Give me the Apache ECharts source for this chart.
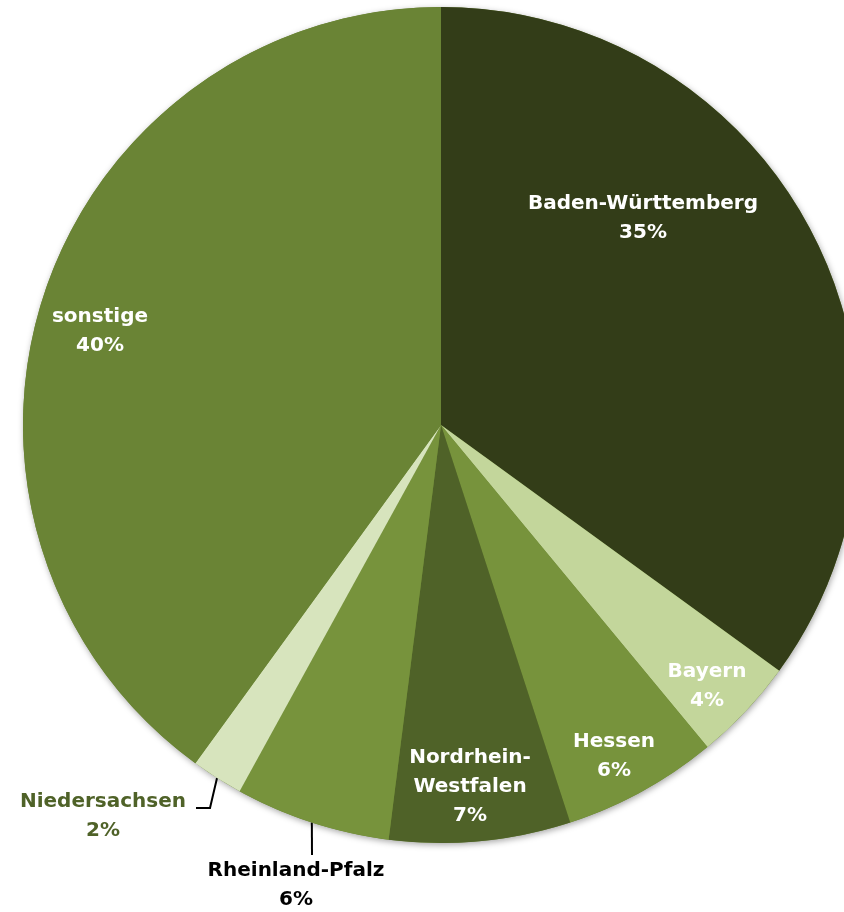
<!DOCTYPE html>
<html>
<head>
<meta charset="utf-8">
<script src="https://cdn.jsdelivr.net/npm/echarts@6/dist/echarts.min.js"></script>
<style>
html,body{margin:0;padding:0;background:#fff;}
#main{width:844px;height:912px;}
</style>
</head>
<body>
<div id="main"></div>
<script>
// ---- data ----
const categories = ['Baden-Württemberg', 'Bayern', 'Hessen', 'Nordrhein-Westfalen', 'Rheinland-Pfalz', 'Niedersachsen', 'sonstige'];
const displayNames = ['Baden-Württemberg', 'Bayern', 'Hessen', 'Nordrhein-\nWestfalen', 'Rheinland-Pfalz', 'Niedersachsen', 'sonstige'];
const shares = [35, 4, 6, 7, 6, 2, 40];

// ---- styles ----
const colors = ['#333d18', '#c3d69b', '#77933c', '#4f6228', '#77933c', '#d7e4bd', '#6a8435'];
const labelColors = ['#fff', '#fff', '#fff', '#fff', '#000', '#4f6228', '#fff'];
const outsideLabel = [false, false, false, false, true, true, false];
// label centres (px) and leader-line bends
const labelPos = [[643, 218], [707, 686], [614, 756], [470, 787], [296, 885], [103, 816], [100, 331]];
const linePath = {4: [[312, 855]], 5: [[210, 808], [196, 808]]};

const CX = 441, CY = 425, R = 418;

const chart = echarts.init(document.getElementById('main'), null, {renderer: 'canvas'});

const total = shares.reduce((a, b) => a + b, 0);
function edgePoint(i) {
  let cum = 0;
  for (let k = 0; k < i; k++) cum += shares[k];
  const a = (cum + shares[i] / 2) / total * 2 * Math.PI;
  return [CX + R * Math.sin(a), CY - R * Math.cos(a)];
}

const data = categories.map((c, i) => ({
  name: c,
  value: shares[i],
  itemStyle: {color: colors[i]},
  label: {
    position: outsideLabel[i] ? 'outside' : 'inside',
    color: labelColors[i]
  },
  labelLine: {show: outsideLabel[i], lineStyle: {color: '#000', width: 2, opacity: 1}, length: 10, length2: 10}
}));

chart.setOption({
  animation: false,
  series: [
    {
      type: 'pie',
      silent: true,
      center: [CX, CY],
      radius: R,
      z: 1,
      label: {show: false},
      labelLine: {show: false},
      itemStyle: {color: '#6a8435', shadowBlur: 6, shadowColor: 'rgba(0,0,0,0.35)', shadowOffsetX: 1, shadowOffsetY: 2},
      data: [{value: 1, name: ''}]
    },
    {
      type: 'pie',
      z: 2,
      center: [CX, CY],
      radius: R,
      startAngle: 90,
      clockwise: true,
      avoidLabelOverlap: false,
      itemStyle: {borderWidth: 0},
      label: {
        show: true,
        fontFamily: 'DejaVu Sans',
        fontWeight: 'bold',
        fontSize: 20,
        lineHeight: 29,
        align: 'center',
        formatter: p => displayNames[p.dataIndex] + '\n' + p.percent + '%'
      },
      labelLayout: function (params) {
        const i = params.dataIndex;
        const pos = labelPos[i];
        const out = {x: pos[0], y: pos[1], align: 'center', verticalAlign: 'middle'};
        if (linePath[i]) {
          out.labelLinePoints = [edgePoint(i)].concat(linePath[i]);
        }
        return out;
      },
      data: data
    }
  ]
});
</script>
</body>
</html>
